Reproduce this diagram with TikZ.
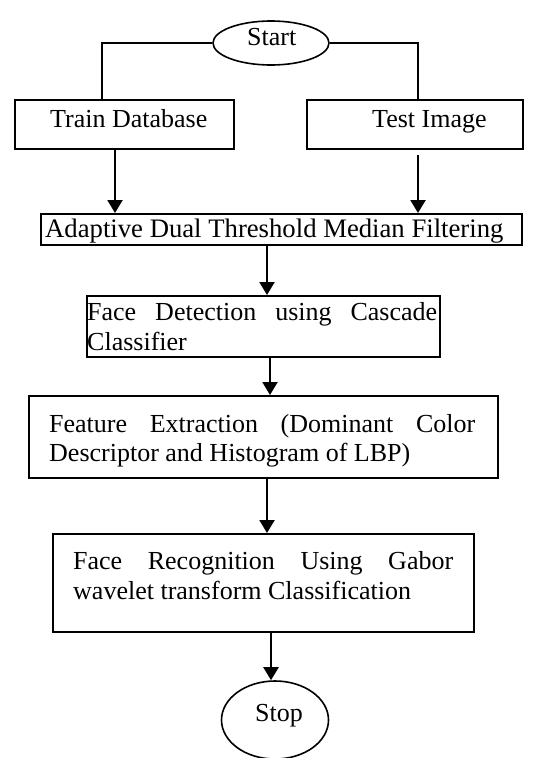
\documentclass[tikz,border=0pt]{standalone}
\usepackage{fontspec}
\setmainfont{Liberation Serif}
\usetikzlibrary{shapes.geometric,arrows.meta,calc}
\newcommand\flowfont{\fontsize{26}{30}\selectfont}
\begin{document}
\begin{tikzpicture}[x=1pt,y=-1pt,
  box/.style={draw, line width=1.6pt, inner sep=0pt, anchor=north west},
  term/.style={draw, ellipse, line width=1.6pt, inner sep=0pt},
  flow/.style={line width=2.2pt, -{Triangle[width=15pt,length=13pt]}},
  link/.style={line width=2pt},
  txt/.style={inner sep=0pt, anchor=base west, font=\flowfont}]
\useasboundingbox (0,0) rectangle (533,758);

% terminals
\node[term, minimum width=116pt, minimum height=44pt] (start) at (271,43) {};
\node[txt] (starttxt) at (247,45) {Start};
\node[term, minimum width=107pt, minimum height=78pt] (stop) at (275,720) {};
\node[txt] (stoptxt) at (255,721) {Stop};

% inputs
\node[box, minimum width=219pt, minimum height=49pt] (train) at (14,99) {};
\node[txt] (traintxt) at (50,127) {Train Database};
\node[box, minimum width=216pt, minimum height=49pt] (test) at (306,99) {};
\node[txt] (testtxt) at (372,127) {Test Image};

% processing steps
\node[box, minimum width=481pt, minimum height=31pt] (adtmf) at (40,213) {};
\node[txt, font=\fontsize{26.7}{30}\selectfont] (adtmftxt) at (45,237) {Adaptive Dual Threshold Median Filtering};

\node[box, minimum width=353pt, minimum height=61pt] (fd) at (86,295) {};
\node[txt] (fdtxta) at (87,320) {\makebox[350pt][s]{Face Detection using Cascade}};
\node[txt] (fdtxtb) at (87,350) {Classifier};

\node[box, minimum width=469pt, minimum height=82pt] (fe) at (28,395) {};
\node[txt] (fetxta) at (49,432) {\makebox[426pt][s]{Feature Extraction (Dominant Color}};
\node[txt] (fetxtb) at (49,461) {Descriptor and Histogram of LBP)};

\node[box, minimum width=421pt, minimum height=98pt] (fr) at (52,533) {};
\node[txt] (frtxta) at (73,569) {\makebox[380pt][s]{Face Recognition Using Gabor}};
\node[txt] (frtxtb) at (73,599) {wavelet transform Classification};

% branches from start
\draw[link] (start.west) -| ($(train.north west)+(88,0)$);
\draw[link] (start.east) -| ($(test.north west)+(112,0)$);

% flow arrows
\draw[flow] ($(train.south west)+(101,0)$) -- ($(adtmf.north west)+(75,0)$);
\draw[flow] ($(test.south west)+(112,5)$) -- ($(adtmf.north west)+(378,0)$);
\draw[flow] ($(adtmf.south west)+(227,0)$) -- ($(fd.north west)+(181,0)$);
\draw[flow] ($(fd.south west)+(184,0)$) -- ($(fe.north west)+(242,0)$);
\draw[flow] ($(fe.south west)+(239,0)$) -- ($(fr.north west)+(215,0)$);
\draw[flow] ($(fr.south west)+(219,0)$) -- ($(stop.north)+(-4,0)$);
\end{tikzpicture}
\end{document}
